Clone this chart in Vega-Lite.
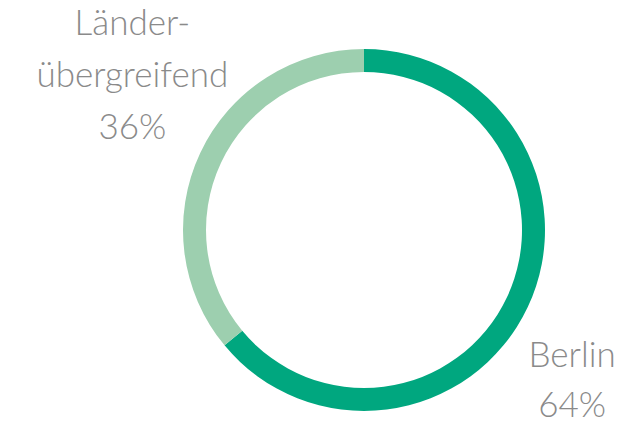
{
  "$schema": "https://vega.github.io/schema/vega-lite/v6.json",
  "width": 548,
  "height": 390,
  "padding": {"left": 90, "right": 0, "top": 35, "bottom": 0},
  "autosize": {"type": "none"},
  "background": "white",
  "config": {"view": {"stroke": null}},
  "data": {
    "values": [
      {"region": "Berlin", "share": 64, "label": "Berlin\n64%"},
      {"region": "Länderübergreifend", "share": 36, "label": "Länder-\nübergreifend\n36%"}
    ]
  },
  "transform": [
    {"stack": "share", "groupby": [], "sort": [{"field": "region", "order": "ascending"}], "as": ["s0", "s1"]},
    {"calculate": "(datum.s0 + datum.s1) / 2", "as": "mid"}
  ],
  "layer": [
    {
      "mark": {"type": "arc", "outerRadius": 181, "innerRadius": 158},
      "encoding": {
        "theta": {"field": "s0", "type": "quantitative", "scale": {"domain": [0, 100]}},
        "theta2": {"field": "s1"},
        "color": {
          "field": "region",
          "type": "nominal",
          "scale": {"domain": ["Berlin", "Länderübergreifend"], "range": ["#00A77F", "#9DCFAF"]},
          "legend": null
        }
      }
    },
    {
      "transform": [{"filter": "datum.region === 'Berlin'"}],
      "mark": {"type": "text", "radius": 230, "dy": 28, "lineBreak": "\n", "font": "Lato", "fontWeight": 300, "fontSize": 35, "lineHeight": 50, "color": "#8a8a8a", "align": "center", "baseline": "middle"},
      "encoding": {
        "theta": {"field": "mid", "type": "quantitative", "scale": {"domain": [0, 100]}},
        "text": {"field": "label"}
      }
    },
    {
      "transform": [{"filter": "datum.region !== 'Berlin'"}],
      "mark": {"type": "text", "radius": 256, "dy": -97, "lineBreak": "\n", "font": "Lato", "fontWeight": 300, "fontSize": 35, "lineHeight": 52, "color": "#8a8a8a", "align": "center", "baseline": "middle"},
      "encoding": {
        "theta": {"field": "mid", "type": "quantitative", "scale": {"domain": [0, 100]}},
        "text": {"field": "label"}
      }
    }
  ]
}
